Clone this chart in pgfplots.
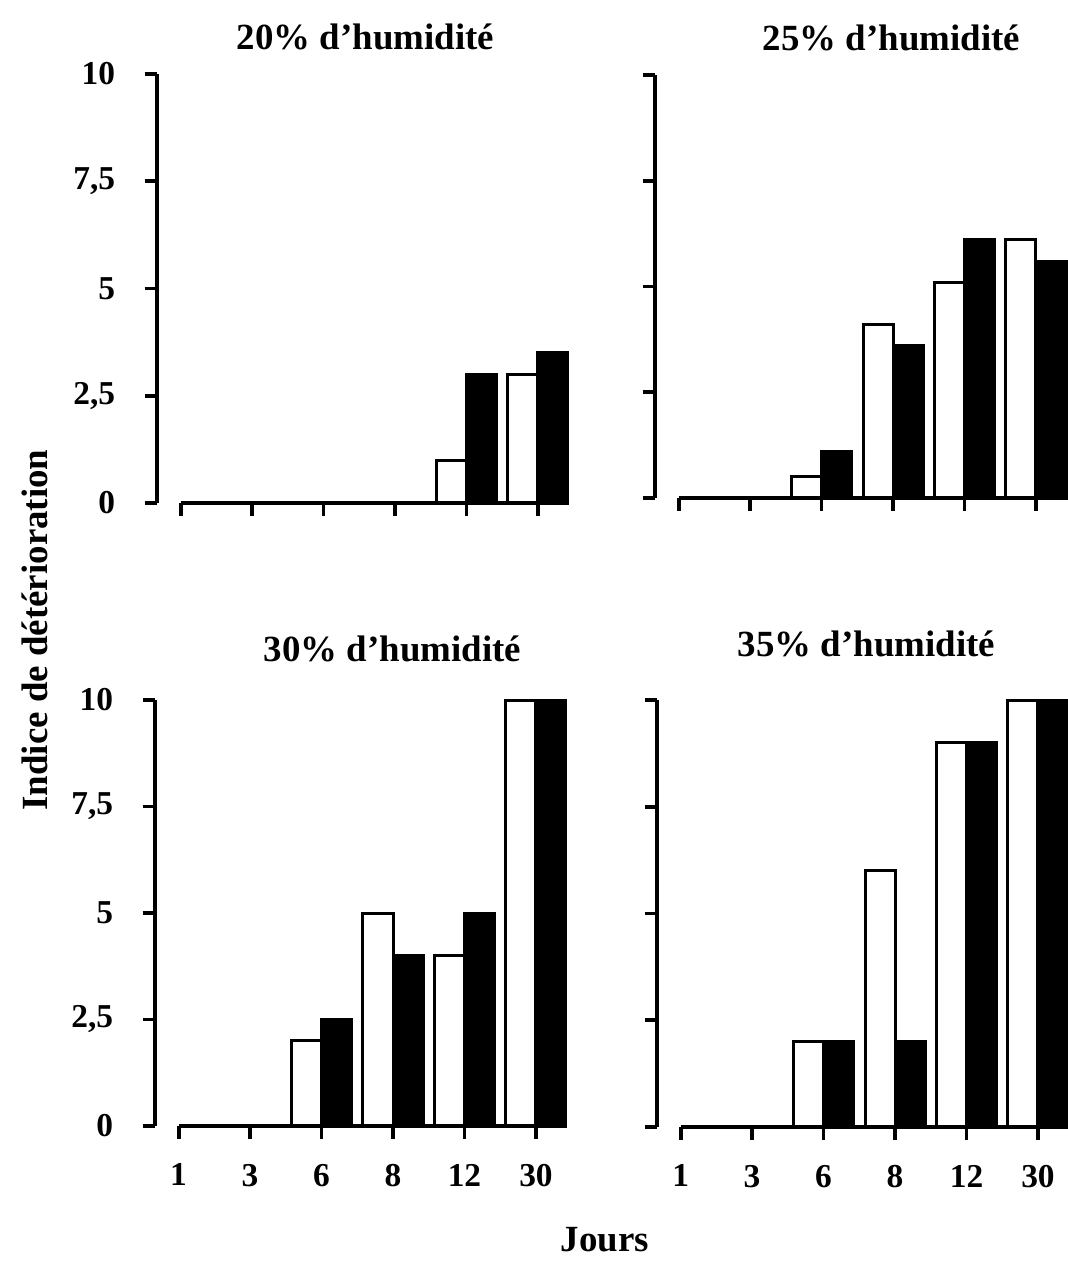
\documentclass[border=0pt]{standalone}
\usepackage{fontspec}
\setmainfont{Liberation Serif}
\usepackage{pgfplots}
\usepackage{pgfplotstable}
\pgfplotsset{compat=1.18}

% indice de deterioration par jour (0..5 = 1,3,6,8,12,30 jours)
\pgfplotstableread{
jour blanc noir
0 0   0
1 0   0
2 0   0
3 0   0
4 1   3
5 3   3.5
}\hvingt
\pgfplotstableread{
jour blanc noir
0 0   0
1 0   0
2 0.5 1.1
3 4.1 3.6
4 5.1 6.1
5 6.1 5.6
}\hvingtcinq
\pgfplotstableread{
jour blanc noir
0 0   0
1 0   0
2 2   2.5
3 5   4
4 4   5
5 10  10
}\htrente
\pgfplotstableread{
jour blanc noir
0 0   0
1 0   0
2 2   2
3 6   2
4 9   9
5 10  10
}\htrentecinq

\tikzset{axe/.style={line width=1.1pt, black}}

\pgfplotsset{
  panneau/.style={
    scale only axis, anchor=south west,
    width=41.1mm, height=42.7mm,
    xmin=-0.33, xmax=5.42, ymin=0, ymax=10,
    clip=false,
    axis y line*=left, axis x line*=bottom,
    axis line style={-, line width=1.1pt},
    x axis line style={draw=none},
    xtick={0,...,5}, ytick={0,2.5,5,7.5,10},
    tick align=outside, major tick length=1.25mm,
    tick style={black, line width=1.1pt},
    ybar, bar width=0.42,
    restrict y to domain=0.01:100,
    tick label style={font=\fontsize{9.5}{11}\selectfont\bfseries},
    yticklabel style={xshift=-1.7mm},
    xticklabel style={yshift=-1.3mm},
    title style={font=\fontsize{10.5}{12}\selectfont\bfseries,
      at={(0.5,1)}, anchor=center, yshift=1.6mm},
  },
  gauche/.style={yticklabels={0,{2,5},5,{7,5},10}},
  droite/.style={yticklabels={}},
  haut/.style={xticklabels={}},
  bas/.style={xticklabels={1,3,6,8,12,30}},
  blanc/.style={draw=black, fill=white, line width=0.3mm, bar shift=-0.21},
  noir/.style={draw=black, fill=black, line width=0.3mm, bar shift=0.21},
}

\begin{document}
\begin{tikzpicture}
\useasboundingbox (0,0) rectangle (106.7mm,-128.2mm);

\begin{axis}[panneau, gauche, haut, at={(15.7mm,-50.3mm)}, height=42.9mm,
  title={20\% d’humidité}, title style={xshift=0.3mm}]
\addplot[blanc] table[x=jour, y=blanc] {\hvingt};
\addplot[noir] table[x=jour, y=noir] {\hvingt};
\draw[axe] (axis cs:0,0) -- (axis cs:5.42,0);
\end{axis}

\begin{axis}[panneau, droite, haut, at={(65.5mm,-49.8mm)}, height=42.3mm,
  title={25\% d’humidité}, title style={xshift=3.1mm}]
\addplot[blanc] table[x=jour, y=blanc] {\hvingtcinq};
\addplot[noir] table[x=jour, y=noir] {\hvingtcinq};
\draw[axe] (axis cs:0,0) -- (axis cs:5.42,0);
\end{axis}

\begin{axis}[panneau, gauche, bas, at={(15.5mm,-112.6mm)}, height=42.6mm,
  title={30\% d’humidité}, title style={xshift=3.2mm, yshift=1.4mm}]
\addplot[blanc] table[x=jour, y=blanc] {\htrente};
\addplot[noir] table[x=jour, y=noir] {\htrente};
\draw[axe] (axis cs:0,0) -- (axis cs:5.42,0);
\end{axis}

\begin{axis}[panneau, droite, bas, at={(65.7mm,-112.7mm)}, height=42.7mm,
  title={35\% d’humidité}, title style={xshift=0.4mm, yshift=1.9mm}]
\addplot[blanc] table[x=jour, y=blanc] {\htrentecinq};
\addplot[noir] table[x=jour, y=noir] {\htrentecinq};
\draw[axe] (axis cs:0,0) -- (axis cs:5.42,0);
\end{axis}

\node[rotate=90, font=\fontsize{10.5}{12}\selectfont\bfseries] at (3.5mm,-63mm) {Indice de détérioration};
\node[font=\fontsize{10.5}{12}\selectfont\bfseries] at (60.5mm,-124mm) {Jours};
\end{tikzpicture}
\end{document}
